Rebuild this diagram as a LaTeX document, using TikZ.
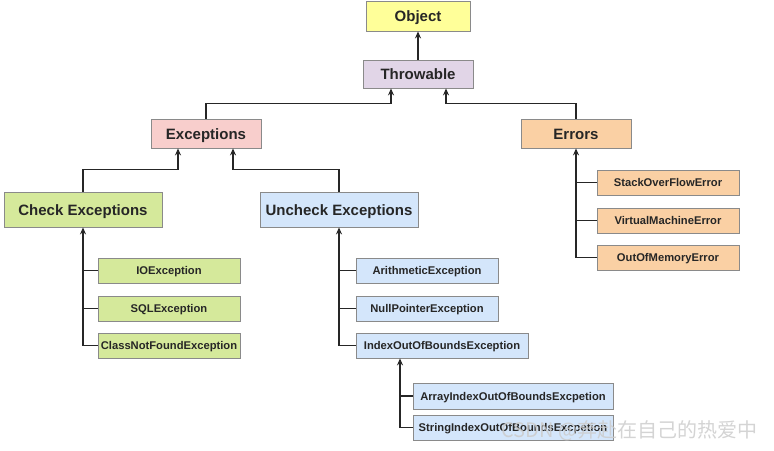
\documentclass[tikz,border=0pt]{standalone}
\usepackage{fontspec}
\setmainfont{Liberation Sans}
\newfontfamily\cjk{Noto Sans CJK SC}
\usetikzlibrary{arrows.meta}

\definecolor{objfill}{HTML}{FFFF99}
\definecolor{thrfill}{HTML}{E1D5E7}
\definecolor{excfill}{HTML}{F8CECC}
\definecolor{errfill}{HTML}{FAD0A4}
\definecolor{chkfill}{HTML}{D5E99B}
\definecolor{uncfill}{HTML}{D4E6FB}
\definecolor{boxline}{HTML}{8A8A8A}
\definecolor{inkc}{HTML}{262626}

\begin{document}
\begin{tikzpicture}[x=1pt,y=-1pt,
	box/.style={draw=boxline,line width=0.8pt,inner sep=0pt,text=inkc,text depth=0pt},
	big/.style={box,font=\fontsize{15}{18}\selectfont\bfseries,text height=11pt},
	small/.style={box,font=\fontsize{11.2}{13}\selectfont\bfseries,text height=8.2pt,minimum width=142pt,minimum height=25pt},
	arr/.style={draw=inkc,line width=1.2pt,-{Stealth[length=7pt,width=6pt]}},
	ln/.style={draw=inkc,line width=1.2pt}]
\useasboundingbox (0,0) rectangle (774,450);

% top of the hierarchy
\node [big,fill=objfill,minimum width=104pt,minimum height=30pt] (obj) at (418,16) {Object};
\node [big,fill=thrfill,minimum width=110pt,minimum height=28pt] (thr) at (418,74) {Throwable};
\node [big,fill=excfill,minimum width=110pt,minimum height=29pt] (exc) at (206,133.5) {Exceptions};
\node [big,fill=errfill,minimum width=110pt,minimum height=29pt] (err) at (576,133.5) {Errors};
\node [big,fill=chkfill,minimum width=158pt,minimum height=35pt] (chk) at (83,209.5) {Check Exceptions};
\node [big,fill=uncfill,minimum width=158pt,minimum height=35pt] (unc) at (339,209.5) {Uncheck Exceptions};

% checked
\node [small,fill=chkfill] (io) at (169,270.5) {IOException};
\node [small,fill=chkfill] (sql) at (169,308.5) {SQLException};
\node [small,fill=chkfill] (cnf) at (169,345.5) {ClassNotFoundException};

% unchecked
\node [small,fill=uncfill] (ari) at (427,270.5) {ArithmeticException};
\node [small,fill=uncfill] (np) at (427,308.5) {NullPointerException};
\node [small,fill=uncfill,minimum width=172pt] (ioob) at (442,345.5) {IndexOutOfBoundsException};
\node [small,fill=uncfill,minimum width=200pt,minimum height=26pt] (aioob) at (513,396) {ArrayIndexOutOfBoundsExcpetion};
\node [small,fill=uncfill,minimum width=200pt] (sioob) at (513,427.5) {StringIndexOutOfBoundsExcpetion};

% errors
\node [small,fill=errfill] (so) at (668,182.5) {StackOverFlowError};
\node [small,fill=errfill] (vm) at (668,220.5) {VirtualMachineError};
\node [small,fill=errfill] (oom) at (668,257.5) {OutOfMemoryError};

\coordinate (ioobfoot) at ([xshift=-42pt]ioob.south);

\draw [arr] (thr) -- (obj);
\draw [arr] (exc.north) -- ++(0,-15) -| ([xshift=-27pt]thr.south);
\draw [arr] (err.north) -- ++(0,-15) -| ([xshift=28pt]thr.south);
\draw [arr] (chk.north) -- ++(0,-22) -| ([xshift=-28pt]exc.south);
\draw [arr] (unc.north) -- ++(0,-22) -| ([xshift=27pt]exc.south);

\draw [arr] (cnf.west) -| (chk.south);
\draw [ln] (io.west) -- (io.west -| chk.south);
\draw [ln] (sql.west) -- (sql.west -| chk.south);

\draw [arr] (ioob.west) -| (unc.south);
\draw [ln] (ari.west) -- (ari.west -| unc.south);
\draw [ln] (np.west) -- (np.west -| unc.south);

\draw [arr] (sioob.west) -| (ioobfoot);
\draw [ln] (aioob.west) -- (aioob.west -| ioobfoot);

\draw [arr] (oom.west) -| (err.south);
\draw [ln] (so.west) -- (so.west -| err.south);
\draw [ln] (vm.west) -- (vm.west -| err.south);

% watermark
\node [anchor=east,text=gray!40,opacity=0.85,font=\cjk\fontsize{20}{24}\selectfont] (mark) at (761,431) {CSDN @奔赴在自己的热爱中};
\end{tikzpicture}
\end{document}
